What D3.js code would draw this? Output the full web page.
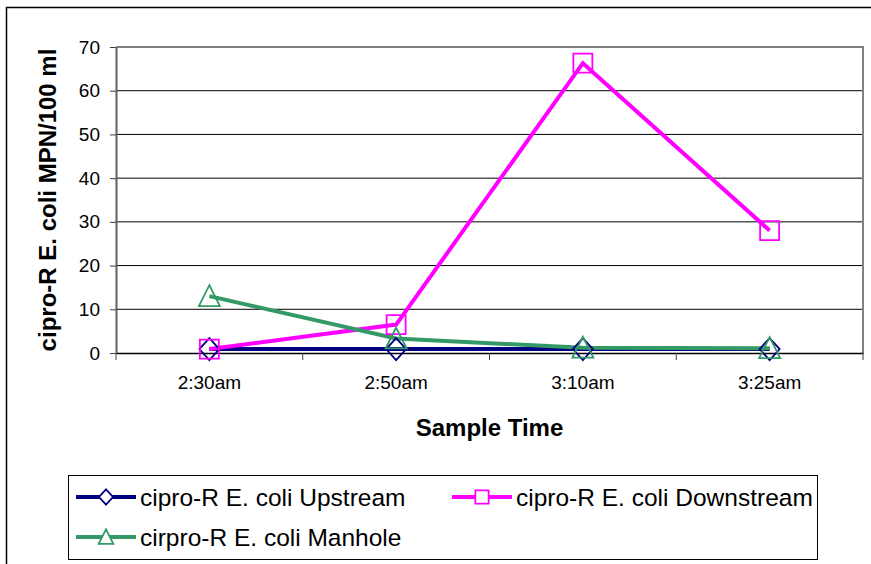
<!DOCTYPE html>
<html><head><meta charset="utf-8">
<script src="https://cdn.jsdelivr.net/npm/d3@7"></script>
<style>html,body{margin:0;padding:0;background:#fff;}svg{display:block;font-family:"Liberation Sans",Arial,sans-serif;}</style>
</head><body>
<svg id="c" width="871" height="564"></svg>
<script>
const categories = ["2:30am", "2:50am", "3:10am", "3:25am"];
const upstream = [0.9, 0.9, 0.9, 0.9];
const downstream = [0.9, 6.5, 66.3, 28];
const manhole = [13, 3.3, 1.2, 1.1];
const yTicks = [0, 10, 20, 30, 40, 50, 60, 70];
const seriesNames = ["cipro-R E. coli Upstream", "cipro-R E. coli Downstream", "cirpro-R E. coli Manhole"];

const svg = d3.select("#c");
const L = 116, R = 863, T = 47, B = 353;

svg.append("rect").attr("x", 6.5).attr("y", 7.5).attr("width", 900).attr("height", 600)
  .attr("fill", "none").attr("stroke", "#000").attr("stroke-width", 1.5);

const x = d3.scaleBand().domain(categories).range([L, R]);
const y = d3.scaleLinear().domain([0, 70]).range([B, T]);

svg.append("g").selectAll("line").data(yTicks.filter(d => d > 0 && d < 70)).join("line")
  .attr("x1", L).attr("x2", R).attr("y1", d => y(d)).attr("y2", d => y(d))
  .attr("stroke", "#000").attr("stroke-width", 1);

svg.append("path").attr("d", `M${L},${T}H${R}V${B}`).attr("fill", "none")
  .attr("stroke", "#808080").attr("stroke-width", 2);

const yAxis = d3.axisLeft(y).tickValues(yTicks).tickSize(6).tickPadding(10).tickSizeOuter(0);
const gy = svg.append("g").attr("transform", `translate(${L},0)`).call(yAxis);
gy.select(".domain").attr("stroke", "#606060").attr("stroke-width", 2);
gy.selectAll(".tick line").attr("stroke", "#404040");
gy.selectAll(".tick text").attr("font-size", 19).attr("fill", "#000").attr("font-family", "Liberation Sans, Arial, sans-serif");

const xAxis = d3.axisBottom(x).tickSize(0).tickPadding(23);
const gx = svg.append("g").attr("transform", `translate(0,${B})`).call(xAxis);
gx.select(".domain").attr("stroke", "#000").attr("stroke-width", 1.5);
gx.selectAll(".tick text").attr("font-size", 19).attr("fill", "#000").attr("font-family", "Liberation Sans, Arial, sans-serif");
const bounds = categories.map(c => x(c)).concat([x(categories[categories.length - 1]) + x.bandwidth()]);
svg.append("g").selectAll("line").data(bounds).join("line")
  .attr("x1", d => d).attr("x2", d => d).attr("y1", B).attr("y2", B + 7)
  .attr("stroke", "#404040").attr("stroke-width", 1);

svg.append("text").attr("x", (L + R) / 2).attr("y", 436).attr("text-anchor", "middle")
  .attr("font-size", 24).attr("font-weight", "bold").text("Sample Time");
svg.append("text").attr("transform", `translate(56,${(T + B) / 2}) rotate(-90)`).attr("text-anchor", "middle")
  .attr("font-size", 24).attr("font-weight", "bold").text("cipro-R E. coli MPN/100 ml");

const cx = c => x(c) + x.bandwidth() / 2;
const series = [
  { name: seriesNames[0], values: upstream, color: "#000080", marker: "diamond" },
  { name: seriesNames[1], values: downstream, color: "#FF00FF", marker: "square" },
  { name: seriesNames[2], values: manhole, color: "#339966", marker: "triangle" }
];

function markerPath(type, s) {
  if (type === "diamond") { const w = 10 * s, h = 11 * s; return `M0,${-h}L${w},0L0,${h}L${-w},0Z`; }
  if (type === "square") { const a = 9.5 * s; return `M${-a},${-a}H${a}V${a}H${-a}Z`; }
  const w = 10.5 * s, h = 11 * s; return `M0,${-h}L${w},${h * 0.9}H${-w}Z`;
}

const line = d3.line().x((d, i) => cx(categories[i])).y(d => y(d));
series.forEach(s => {
  svg.append("path").datum(s.values).attr("d", line).attr("fill", "none")
    .attr("stroke", s.color).attr("stroke-width", 4).attr("stroke-linejoin", "miter");
});
series.forEach(s => {
  svg.append("g").selectAll("path").data(s.values).join("path")
    .attr("transform", (d, i) => `translate(${cx(categories[i])},${y(d)})`)
    .attr("d", markerPath(s.marker, 1)).attr("fill", "none")
    .attr("stroke", s.color).attr("stroke-width", 1.8);
});

svg.append("rect").attr("x", 68.5).attr("y", 475.5).attr("width", 749).attr("height", 84)
  .attr("fill", "#fff").attr("stroke", "#000").attr("stroke-width", 1);
const legPos = [[76, 497], [452, 497], [76, 537]];
series.forEach((s, i) => {
  const [lx, ly] = legPos[i];
  const g = svg.append("g").attr("transform", `translate(${lx},${ly})`);
  g.append("line").attr("x1", 0).attr("x2", 60).attr("y1", 0).attr("y2", 0)
    .attr("stroke", s.color).attr("stroke-width", 4);
  g.append("path").attr("transform", "translate(30,0)").attr("d", markerPath(s.marker, 0.7))
    .attr("fill", "#fff").attr("stroke", s.color).attr("stroke-width", 1.8);
  g.append("text").attr("x", 64).attr("y", 0).attr("dy", "0.35em").attr("font-size", 24.5)
    .attr("fill", "#000").text(s.name);
});
</script>
</body></html>
